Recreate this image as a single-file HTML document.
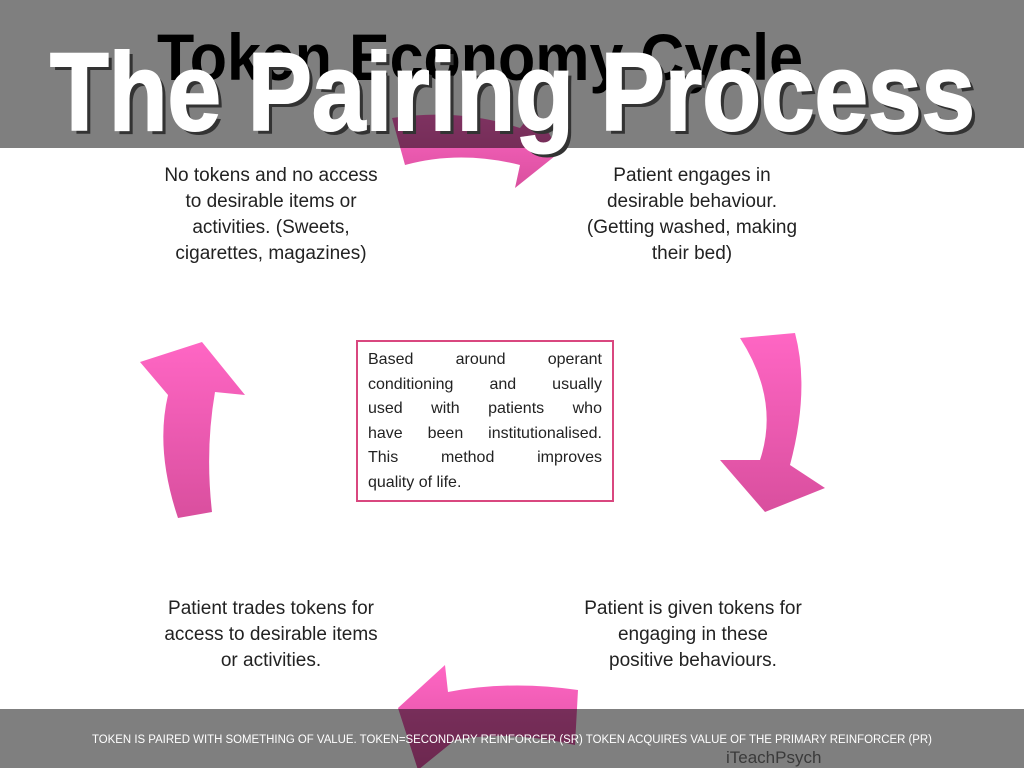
<!DOCTYPE html>
<html><head><meta charset="utf-8"><style>
html,body{margin:0;padding:0;background:#fff;}
body{width:1024px;height:768px;position:relative;overflow:hidden;font-family:"Liberation Sans",sans-serif;}
.n{position:absolute;text-align:center;font-size:19px;line-height:26px;color:#222;width:300px;}
.box{position:absolute;left:356px;top:340px;width:234px;height:146px;border:2px solid #d9477f;padding:6px 10px 6px 10px;font-size:16px;line-height:24.6px;color:#222;}
.box div{white-space:nowrap;display:flex;justify-content:space-between;}
.box div.last{display:block;text-align:left;}
</style></head><body>
<svg width="1024" height="768" style="position:absolute;left:0;top:0">
<defs><linearGradient id="g" x1="0" y1="0" x2="0" y2="1"><stop offset="0" stop-color="#ff66c4"/><stop offset="1" stop-color="#d94f9e"/></linearGradient></defs>
<text x="157" y="80" font-family="Liberation Sans" font-weight="bold" font-size="66" textLength="646" lengthAdjust="spacingAndGlyphs" fill="#000">Token Economy Cycle</text>
<path d="M392,118 Q460,108 520,128 L535,110 L560,152 L515,188 L520,165 Q460,150 405,165 Z" fill="url(#g)"/>
<path d="M740,338 Q780,400 760,460 L720,460 L765,512 L825,488 L790,465 Q810,390 795,333 Z" fill="url(#g)"/>
<path d="M178,518 Q155,450 168,395 L140,362 L202,342 L245,395 L215,392 Q205,450 212,512 Z" fill="url(#g)"/>
<path d="M445,665 L448,692 Q510,680 578,690 L575,745 Q510,730 455,740 L418,770 L398,708 Z" fill="url(#g)"/>
<rect x="0" y="0" width="1024" height="148" fill="rgba(0,0,0,0.5)"/>
<rect x="0" y="709" width="1024" height="59" fill="rgba(0,0,0,0.5)"/>
<text x="54" y="134" font-family="Liberation Sans" font-weight="bold" font-size="110" textLength="925" lengthAdjust="spacingAndGlyphs" fill="#333">The Pairing Process</text>
<text x="50" y="130" font-family="Liberation Sans" font-weight="bold" font-size="110" textLength="925" lengthAdjust="spacingAndGlyphs" fill="#fff" stroke="#fff" stroke-width="2">The Pairing Process</text>
<text x="512" y="743" text-anchor="middle" font-family="Liberation Sans" font-size="11.5" textLength="840" lengthAdjust="spacingAndGlyphs" fill="#fff">TOKEN IS PAIRED WITH SOMETHING OF VALUE. TOKEN=SECONDARY REINFORCER (SR) TOKEN ACQUIRES VALUE OF THE PRIMARY REINFORCER (PR)</text>
<text x="726" y="763" font-family="Liberation Sans" font-size="17" fill="#3a3a3a">iTeachPsych</text>
</svg>
<div class="n" style="left:121px;top:163px">No tokens and no access<br>to desirable items or<br>activities. (Sweets,<br>cigarettes, magazines)</div>
<div class="n" style="left:542px;top:163px">Patient engages in<br>desirable behaviour.<br>(Getting washed, making<br>their bed)</div>
<div class="n" style="left:121px;top:596px">Patient trades tokens for<br>access to desirable items<br>or activities.</div>
<div class="n" style="left:543px;top:596px">Patient is given tokens for<br>engaging in these<br>positive behaviours.</div>
<div class="box">
<div><span>Based</span><span>around</span><span>operant</span></div>
<div><span>conditioning</span><span>and</span><span>usually</span></div>
<div><span>used</span><span>with</span><span>patients</span><span>who</span></div>
<div><span>have</span><span>been</span><span>institutionalised.</span></div>
<div><span>This</span><span>method</span><span>improves</span></div>
<div class="last">quality of life.</div>
</div>
</body></html>
